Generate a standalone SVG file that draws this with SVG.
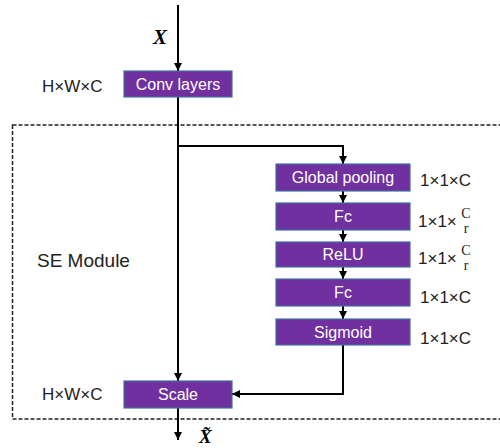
<svg xmlns="http://www.w3.org/2000/svg" width="500" height="448" viewBox="0 0 500 448">
<defs>
<marker id="ah" viewBox="0 0 10 10" refX="10" refY="5" markerWidth="4" markerHeight="4" orient="auto" markerUnits="strokeWidth">
<path d="M0,0 L10,5 L0,10 z" fill="#000"/>
</marker>
<style>
.box{fill:#7030A0;stroke:#41719C;stroke-width:1.2}
.bt{font-family:"Liberation Sans",Arial,sans-serif;font-size:16px;fill:#fff;text-anchor:middle;dominant-baseline:central}
.lb{font-family:"Liberation Sans",Arial,sans-serif;font-size:17px;fill:#222}
.fr{font-family:"Liberation Serif","Times New Roman",serif;font-size:14px;fill:#222;text-anchor:middle}
.cn{fill:none;stroke:#000;stroke-width:2}
.var{font-family:"Liberation Serif","Times New Roman",serif;font-size:21px;font-weight:bold;font-style:italic;fill:#000}
</style>
</defs>
<rect x="12.5" y="125" width="500" height="294" fill="none" stroke="#222" stroke-width="1.5" stroke-dasharray="4,2"/>
<g id="connectors">
<path class="cn" d="M178,5 V71" marker-end="url(#ah)"/>
<path class="cn" d="M178,97 V381" marker-end="url(#ah)"/>
<path class="cn" d="M178,146 H343 V164" marker-end="url(#ah)"/>
<path class="cn" d="M343,191 V203" marker-end="url(#ah)"/>
<path class="cn" d="M343,230 V242" marker-end="url(#ah)"/>
<path class="cn" d="M343,267 V279" marker-end="url(#ah)"/>
<path class="cn" d="M343,306 V319" marker-end="url(#ah)"/>
<path class="cn" d="M343,345 V394 H232" marker-end="url(#ah)"/>
<path class="cn" d="M178,408 V440" marker-end="url(#ah)"/>
</g>
<text class="var" x="153" y="44">X</text>
<text class="var" x="199" y="443" style="font-size:19px">X̃</text>
<text class="lb" x="42" y="92">H×W×C</text>
<text class="lb" x="42" y="400">H×W×C</text>
<text class="lb" x="37" y="267" style="font-size:19px">SE Module</text>
<g id="conv"><rect class="box" x="124" y="71" width="108" height="26"/><text class="bt" x="178" y="84">Conv layers</text></g>
<g id="gpool"><rect class="box" x="276" y="164" width="134" height="27"/><text class="bt" x="343" y="177.5">Global pooling</text></g>
<g id="fc1"><rect class="box" x="276" y="203" width="134" height="27"/><text class="bt" x="343" y="216.5">Fc</text></g>
<g id="relu"><rect class="box" x="276" y="242" width="134" height="25"/><text class="bt" x="343" y="254.5">ReLU</text></g>
<g id="fc2"><rect class="box" x="276" y="279" width="134" height="27"/><text class="bt" x="343" y="292.5">Fc</text></g>
<g id="sigmoid"><rect class="box" x="276" y="319" width="134" height="26"/><text class="bt" x="343" y="332">Sigmoid</text></g>
<g id="scale"><rect class="box" x="124" y="381" width="108" height="27"/><text class="bt" x="178" y="394.5">Scale</text></g>
<text class="lb" x="420" y="186">1×1×C</text>
<text class="lb" x="418" y="227">1×1×</text>
<text class="fr" x="466" y="218">C</text>
<text class="fr" x="466" y="233">r</text>
<text class="lb" x="418" y="264">1×1×</text>
<text class="fr" x="466" y="255">C</text>
<text class="fr" x="466" y="270">r</text>
<text class="lb" x="420" y="303">1×1×C</text>
<text class="lb" x="420" y="344">1×1×C</text>
</svg>
